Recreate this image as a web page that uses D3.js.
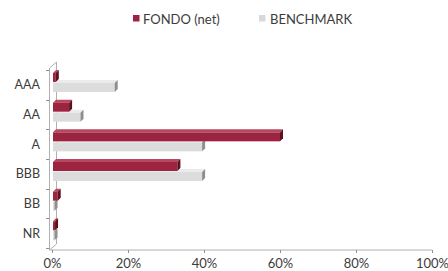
<!DOCTYPE html>
<html>
<head>
<meta charset="utf-8">
<script src="https://cdn.jsdelivr.net/npm/d3@7"></script>
<style>
  html,body{margin:0;padding:0;background:#fff;}
  svg text{font-family:"Lato","Open Sans",sans-serif;fill:#3c3c3c;}
</style>
</head>
<body>
<div id="chart"></div>
<script>
// 数据
var categories=["AAA","AA","A","BBB","BB","NR"];
var fondo=[0.010,0.045,0.600,0.330,0.015,0.008];
var benchmark=[0.165,0.075,0.395,0.395,0.003,0.003];
var xTicks=[0,0.2,0.4,0.6,0.8,1.0];
var seriesNames=["FONDO (net)","BENCHMARK"];

var W=448,H=271;
var svg=d3.select("#chart").append("svg")
    .attr("width",W).attr("height",H);

// 比例尺
var x=d3.scaleLinear().domain([0,1]).range([52,432]);
var y=d3.scaleBand().domain(categories).range([70,248]);
var depth=3;

// 3D 侧墙
var wall=svg.append("g").attr("stroke","#b0b0b0").attr("fill","none").attr("stroke-width",1);
wall.append("path")
    .attr("d","M49.5,250 L49.5,68 L56.5,62 L56.5,244 L49.5,250");
wall.append("line").attr("x1",49.5).attr("y1",250).attr("x2",x(1)).attr("y2",250);

// y 轴刻度
svg.append("g").selectAll("line")
    .data(categories.concat(["_end"]))
    .enter().append("line")
    .attr("x1",46).attr("x2",49.5)
    .attr("y1",function(d,i){return Math.round(70+i*y.step())+0.5;})
    .attr("y2",function(d,i){return Math.round(70+i*y.step())+0.5;})
    .attr("stroke","#909090");
svg.append("g").selectAll("text")
    .data(categories).enter().append("text")
    .attr("x",40).attr("y",function(d){return y(d)+y.bandwidth()/2;})
    .attr("dy","0.35em").attr("text-anchor","end")
    .attr("font-size","12.5px")
    .text(function(d){return d;});

// x 轴
var xaxis=d3.axisBottom(x).tickValues(xTicks).tickSize(3)
    .tickFormat(d3.format(".0%"));
var gx=svg.append("g").attr("transform","translate(0,250)").call(xaxis);
gx.select(".domain").remove();
gx.selectAll("line").attr("stroke","#909090");
gx.selectAll("text").attr("font-size","13px").attr("dy","0.9em")
    .attr("fill","#3c3c3c").style("font-family","Lato, 'Open Sans', sans-serif");

// 柱
function drawBars(data,offset,front,top,side){
    var g=svg.append("g");
    var bh=9;
    data.forEach(function(v,i){
        var y0=y(categories[i])+offset;
        var x0=x(0)+1, x1=Math.max(x(v),x0+1.5);
        g.append("path")
            .attr("d","M"+x0+","+y0+" L"+(x0+depth)+","+(y0-depth)+" L"+(x1+depth)+","+(y0-depth)+" L"+x1+","+y0+"Z")
            .attr("fill",top);
        g.append("rect").attr("x",x0).attr("y",y0)
            .attr("width",x1-x0).attr("height",bh).attr("fill",front);
        g.append("path")
            .attr("d","M"+x1+","+y0+" L"+(x1+depth)+","+(y0-depth)+" L"+(x1+depth)+","+(y0+bh-depth)+" L"+x1+","+(y0+bh)+"Z")
            .attr("fill",side);
    });
}
drawBars(benchmark,13,"#dcdcdc","#ebebeb","#8e8e8e");
drawBars(fondo,3,"#9d2440","#b8485f","#5e1020");

// 图例
var legend=svg.append("g");
legend.append("rect").attr("x",133).attr("y",15).attr("width",6.5).attr("height",6.5).attr("fill","#9d2440");
legend.append("text").attr("x",143).attr("y",19).attr("dy","0.35em").attr("font-size","13px").text(seriesNames[0]);
legend.append("rect").attr("x",259).attr("y",15).attr("width",6.5).attr("height",6.5).attr("fill","#d9d9d9");
legend.append("text").attr("x",270).attr("y",19).attr("dy","0.35em").attr("font-size","13px").text(seriesNames[1]);
</script>
</body>
</html>
